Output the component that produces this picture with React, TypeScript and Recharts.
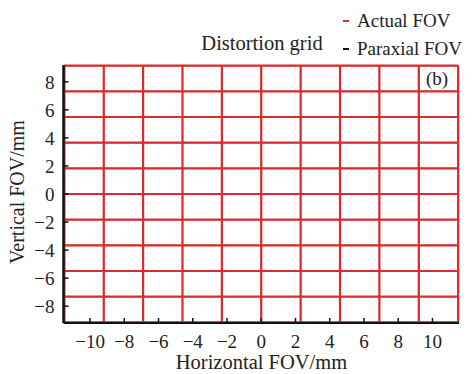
import React from "react";
import { Line, LineChart, XAxis, YAxis } from "recharts";

// grid node positions (mm)
const paraxialX = [-11.5, -9.2, -6.9, -4.6, -2.3, 0, 2.3, 4.6, 6.9, 9.2, 11.5];
const paraxialY = [-9.15, -7.32, -5.49, -3.66, -1.83, 0, 1.83, 3.66, 5.49, 7.32, 9.15];
const actualX = [-11.5, -9.2, -6.9, -4.6, -2.3, 0, 2.3, 4.6, 6.9, 9.2, 11.5];
const actualY = [-9.15, -7.32, -5.49, -3.66, -1.83, 0, 1.83, 3.66, 5.49, 7.32, 9.15];

const xTicks = [-10, -8, -6, -4, -2, 0, 2, 4, 6, 8, 10];
const yTicks = [-8, -6, -4, -2, 0, 2, 4, 6, 8];

const RED = "#dc2a2e";
const legendItems = [
    { name: "Actual FOV", color: RED },
    { name: "Paraxial FOV", color: "#111" },
];

const FONT = "'Liberation Serif', 'Times New Roman', serif";

type Pt = { x: number; y: number };

// each grid line is a 2 point segment spanning the grid
const buildLines = (xs: number[], ys: number[]) => {
    const lines: Pt[][] = [];
    xs.forEach((x) => lines.push([{ x, y: ys[0] }, { x, y: ys[ys.length - 1] }]));
    ys.forEach((y) => lines.push([{ x: xs[0], y }, { x: xs[xs.length - 1], y }]));
    return lines;
};

const paraxialLines = buildLines(paraxialX, paraxialY);
const actualLines = buildLines(actualX, actualY);

const fmt = (v: number) => (v < 0 ? `\u2212${Math.abs(v)}` : `${v}`);

const XTick = ({ x, y, payload }: any) => (
    <text x={x} y={y} dy="0.71em" textAnchor="middle" fill="#222" fontSize={19} fontFamily={FONT}>
        {fmt(payload.value)}
    </text>
);

const YTick = ({ x, y, payload }: any) => (
    <text x={x} y={y} dy="0.36em" textAnchor="end" fill="#222" fontSize={19} fontFamily={FONT}>
        {fmt(payload.value)}
    </text>
);

export default function App() {
    return (
        <div style={{ position: "absolute", left: 0, top: 0, width: 474, height: 374, background: "#fff" }}>
            <LineChart width={474} height={374} margin={{ top: 65, right: 15, bottom: 50, left: 62.5 }}>
                {paraxialLines.map((d, i) => (
                    <Line
                        key={`p${i}`}
                        data={d}
                        dataKey="y"
                        stroke="#111"
                        strokeWidth={1}
                        dot={false}
                        isAnimationActive={false}
                    />
                ))}
                {actualLines.map((d, i) => (
                    <Line
                        key={`a${i}`}
                        data={d}
                        dataKey="y"
                        stroke={RED}
                        strokeWidth={2.2}
                        dot={false}
                        isAnimationActive={false}
                    />
                ))}
                <XAxis
                    type="number"
                    dataKey="x"
                    domain={[-11.55, 11.55]}
                    ticks={xTicks}
                    height={1}
                    axisLine={{ stroke: "#111", strokeWidth: 2 }}
                    tickLine={{ stroke: "#111", strokeWidth: 1.5 }}
                    tickSize={-5}
                    tickMargin={17}
                    tick={XTick}
                />
                <YAxis
                    type="number"
                    dataKey="y"
                    domain={[-9.2, 9.2]}
                    ticks={yTicks}
                    width={1}
                    axisLine={{ stroke: "#111", strokeWidth: 2.5 }}
                    tickLine={{ stroke: "#111", strokeWidth: 1.5 }}
                    tickSize={-5}
                    tickMargin={14}
                    tick={YTick}
                />
            </LineChart>
            <svg width={474} height={374} style={{ position: "absolute", left: 0, top: 0, pointerEvents: "none" }}>
                <g fontFamily={FONT} fill="#222">
                    <text x={262} y={50} fontSize={20.5} textAnchor="middle">Distortion grid</text>
                    {legendItems.map((item, i) => (
                        <g key={item.name}>
                            <line x1={343} x2={349} y1={21 + i * 28} y2={21 + i * 28} stroke={item.color} strokeWidth={2} />
                            <text x={357} y={27 + i * 28} fontSize={19}>{item.name}</text>
                        </g>
                    ))}
                    <text x={437} y={85} fontSize={19} textAnchor="middle">(b)</text>
                    <text x={261.5} y={369} fontSize={20.5} textAnchor="middle">Horizontal FOV/mm</text>
                    <text x={24} y={192} fontSize={20} textAnchor="middle" transform="rotate(-90 24 192)">
                        Vertical FOV/mm
                    </text>
                </g>
            </svg>
        </div>
    );
}
